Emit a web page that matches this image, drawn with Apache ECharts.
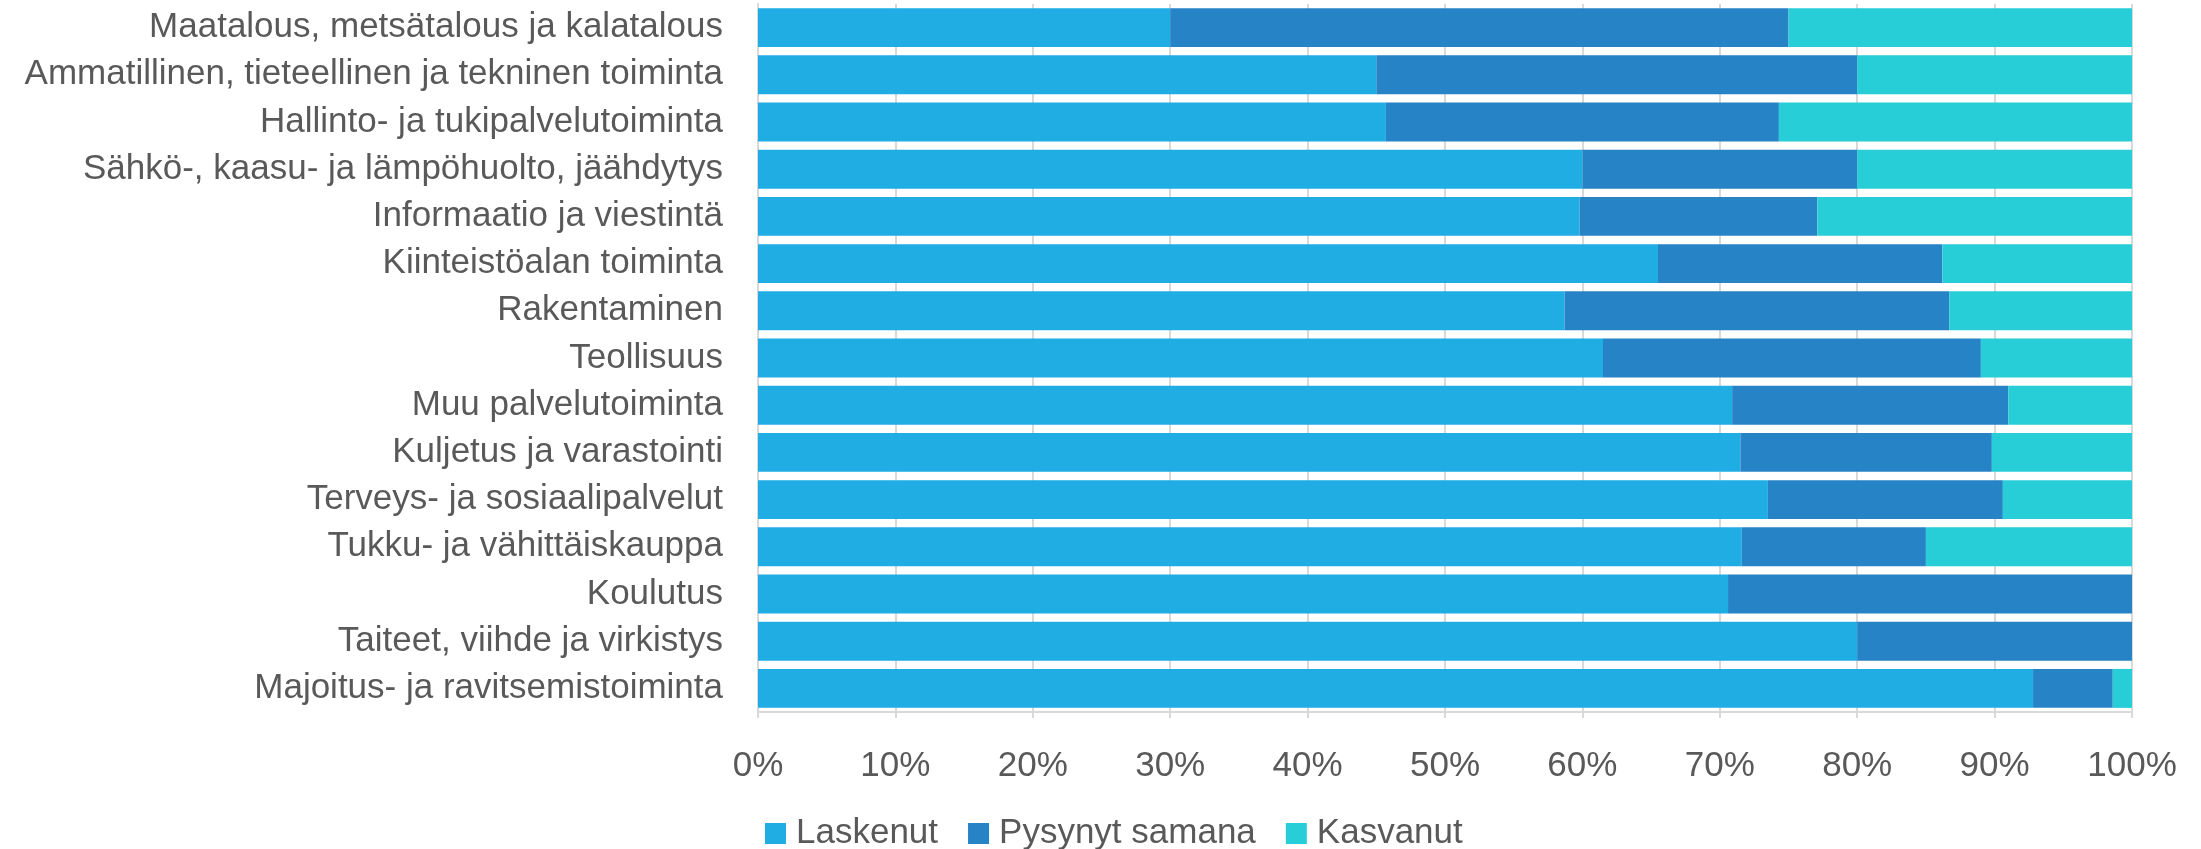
<!DOCTYPE html>
<html>
<head>
<meta charset="utf-8">
<script src="https://cdn.jsdelivr.net/npm/echarts@6/dist/echarts.min.js"></script>
<style>
html,body{margin:0;padding:0;background:#fff;}
#chart{width:2201px;height:849px;}
</style>
</head>
<body>
<div id="chart"></div>
<script>
const categories = [
  "Maatalous, metsätalous ja kalatalous",
  "Ammatillinen, tieteellinen ja tekninen toiminta",
  "Hallinto- ja tukipalvelutoiminta",
  "Sähkö-, kaasu- ja lämpöhuolto, jäähdytys",
  "Informaatio ja viestintä",
  "Kiinteistöalan toiminta",
  "Rakentaminen",
  "Teollisuus",
  "Muu palvelutoiminta",
  "Kuljetus ja varastointi",
  "Terveys- ja sosiaalipalvelut",
  "Tukku- ja vähittäiskauppa",
  "Koulutus",
  "Taiteet, viihde ja virkistys",
  "Majoitus- ja ravitsemistoiminta"
];
const laskenut = [30, 45, 45.7, 60, 59.8, 65.5, 58.7, 61.5, 70.9, 71.5, 73.5, 71.6, 70.6, 80, 92.8];
const pysynyt  = [45, 35, 28.6, 20, 17.3, 20.7, 28.0, 27.5, 20.1, 18.3, 17.1, 13.4, 29.4, 20, 5.8];
const kasvanut = [25, 20, 25.7, 20, 22.9, 13.8, 13.3, 11.0, 9.0, 10.2, 9.4, 15.0, 0, 0, 1.4];
const seriesNames = ["Laskenut", "Pysynyt samana", "Kasvanut"];
const colors = ["#1FADE4", "#2683C6", "#27CED7"];

const FONT = "'Liberation Sans', Arial, sans-serif";
const FS = 35;
const TXT = "#595959";

const chart = echarts.init(document.getElementById('chart'));
const data = [laskenut, pysynyt, kasvanut];
chart.setOption({
  animation: false,
  grid: { left: 758, right: 69, top: 4, bottom: 137, containLabel: false },
  legend: {
    left: 760, top: 811,
    itemWidth: 21, itemHeight: 21, itemGap: 30,
    icon: 'rect',
    textStyle: { fontFamily: FONT, fontSize: FS, color: TXT, padding: [0, 0, 0, 5] },
    data: seriesNames
  },
  xAxis: {
    type: 'value', min: 0, max: 100, interval: 10,
    axisLabel: { formatter: '{value}%', fontFamily: FONT, fontSize: FS, color: TXT, margin: 37 },
    axisLine: { show: true, lineStyle: { color: '#D9D9D9', width: 2 } },
    axisTick: { show: true, length: 6, lineStyle: { color: '#D9D9D9', width: 2 } },
    splitLine: { show: true, lineStyle: { color: '#D9D9D9', width: 2 } }
  },
  yAxis: {
    type: 'category', inverse: true, data: categories,
    axisLabel: { interval: 0, fontFamily: FONT, fontSize: FS, color: TXT, margin: 35 },
    axisLine: { show: true, lineStyle: { color: '#D9D9D9', width: 2 } },
    axisTick: { show: false }
  },
  series: seriesNames.map((n, i) => ({
    name: n, type: 'bar', stack: 'total',
    barCategoryGap: '17.5%',
    itemStyle: { color: colors[i] },
    data: data[i]
  }))
});
</script>
</body>
</html>
